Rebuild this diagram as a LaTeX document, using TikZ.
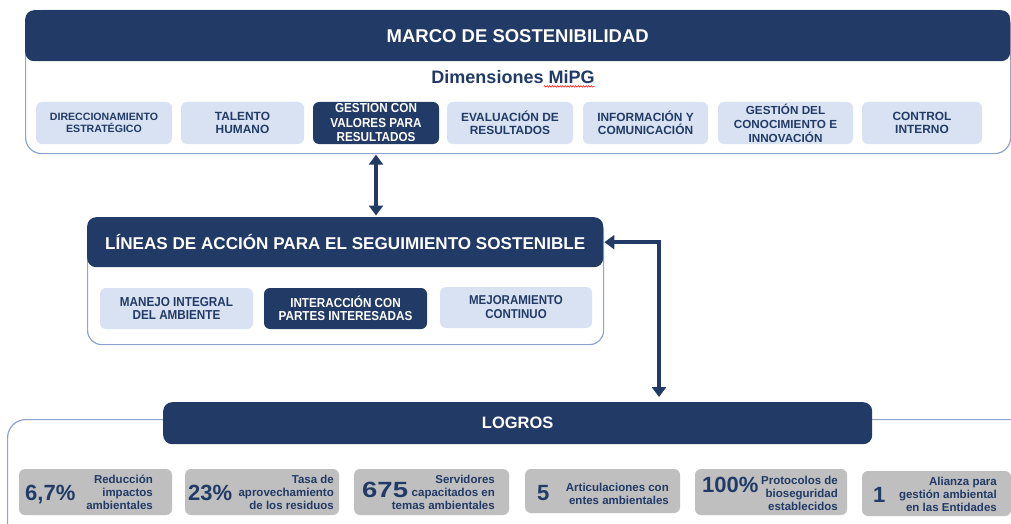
\documentclass[tikz,border=0pt]{standalone}
\usepackage{fontspec}
\usepackage{graphicx}
\setmainfont{Liberation Sans}
\usetikzlibrary{arrows.meta,decorations.pathmorphing}
\definecolor{navy}{HTML}{213A66}
\definecolor{lightblue}{HTML}{D9E2F2}
\definecolor{boxgray}{HTML}{BFBFBF}
\definecolor{frameline}{HTML}{8EA4CF}
\newcommand{\fs}[2]{\fontsize{#1}{#2}\selectfont}
\newcommand{\cnd}[1]{\scalebox{0.9}[1]{#1}}
\begin{document}
\begin{tikzpicture}[x=1pt,y=-1pt,
  frame/.style={draw=frameline, line width=1.2pt, fill=white, rounded corners=16pt, inner sep=0pt},
  hdr/.style={fill=navy, rounded corners=9pt, text=white, inner sep=0pt, font=\bfseries\fs{18.5}{20}},
  dimbox/.style={fill=lightblue, rounded corners=6pt, text=navy, align=center, inner sep=0pt, minimum height=42, font=\bfseries\fs{11.9}{13.5}},
  darkbox/.style={dimbox, fill=navy, text=white},
  midbox/.style={dimbox, minimum height=41, font=\bfseries\fs{13}{13}},
  achbox/.style={fill=boxgray, rounded corners=6pt, inner sep=0pt, minimum height=46},
  num/.style={anchor=base west, inner sep=0pt, text=navy, font=\bfseries\fs{22}{24}},
  desc/.style={anchor=east, inner sep=0pt, text=navy, align=right, font=\bfseries\fs{11.5}{13}},
  biarrow/.style={draw=navy, line width=3.5pt, {Triangle[width=14pt,length=10pt]}-{Triangle[width=14pt,length=10pt]}}
]
\useasboundingbox (0,0) rectangle (1011,524);
\clip (0,0) rectangle (1011,524);

% ---------- MARCO ----------
\node[frame, minimum width=985, minimum height=143, anchor=north west] (marco) at (25,10) {};
\node[hdr, minimum width=985, minimum height=51, anchor=north west] (marcohead) at (25,10) {MARCO DE SOSTENIBILIDAD};
\node[inner sep=0pt, text=navy, font=\bfseries\fs{18}{20}] (dim) at (513,77) {Dimensiones MiPG};
\draw[red, line width=0.5pt, decorate, decoration={snake, amplitude=0.8pt, segment length=2.6pt}]
  ([xshift=-51pt,yshift=-3pt]dim.base east) -- ([yshift=-3pt]dim.base east);

\node[dimbox, minimum width=136, font=\bfseries\fs{10.6}{12}] (d1) at (104,123) {DIRECCIONAMIENTO\\ESTRATÉGICO};
\node[dimbox, minimum width=123] (d2) at (242.5,123) {TALENTO\\HUMANO};
\node[darkbox, minimum width=126, font=\bfseries\fs{13}{14.5}] (d3) at (376,123) {\cnd{GESTION CON}\\\cnd{VALORES PARA}\\\cnd{RESULTADOS}};
\node[dimbox, minimum width=126] (d4) at (510,123) {EVALUACIÓN DE\\RESULTADOS};
\node[dimbox, minimum width=125] (d5) at (645.5,123) {INFORMACIÓN Y\\COMUNICACIÓN};
\node[dimbox, minimum width=135, font=\bfseries\fs{11.7}{14}] (d6) at (785.5,123) {GESTIÓN DEL\\CONOCIMIENTO E\\INNOVACIÓN};
\node[dimbox, minimum width=120] (d7) at (922,123) {CONTROL\\INTERNO};

% ---------- LINEAS ----------
\node[frame, rounded corners=14pt, minimum width=516, minimum height=127, anchor=north west] (linframe) at (87,217) {};
\node[hdr, minimum width=516, minimum height=50, anchor=north west, font=\bfseries\fs{17.1}{20}] (linhead) at (87,217) {LÍNEAS DE ACCIÓN PARA EL SEGUIMIENTO SOSTENIBLE};
\node[midbox, minimum width=153] (m1) at (176.5,308.5) {\cnd{MANEJO INTEGRAL}\\\cnd{DEL AMBIENTE}};
\node[midbox, fill=navy, text=white, minimum width=163] (m2) at (345.5,308.5) {\cnd{INTERACCIÓN CON}\\\cnd{PARTES INTERESADAS}};
\node[midbox, minimum width=152, font=\bfseries\fs{12.8}{14}] (m3) at (516,307.5) {\cnd{MEJORAMIENTO}\\\cnd{CONTINUO}};

% ---------- LOGROS ----------
\node[frame, rounded corners=18pt, minimum width=1100, minimum height=200, anchor=north west] (logframe) at (7,419) {};
\node[hdr, minimum width=709, minimum height=42, anchor=north west, font=\bfseries\fs{16.5}{20}] (loghead) at (163,402) {LOGROS};

\node[achbox, minimum width=153] (a1) at (95.5,492) {};
\node[achbox, minimum width=154] (a2) at (262,492) {};
\node[achbox, minimum width=155] (a3) at (431.5,492) {};
\node[achbox, minimum width=155, minimum height=44] (a4) at (602.5,491) {};
\node[achbox, minimum width=152] (a5) at (771,492) {};
\node[achbox, minimum width=149, minimum height=45] (a6) at (936.5,493.5) {};

\node[num] (n1) at (25,500) {6,7\%};
\node[num] (n2) at (188,500) {23\%};
\node[num] (n3) at (362,497) {\scalebox{1.25}[1]{675}};
\node[num] (n4) at (537,500) {5};
\node[num] (n5) at (702,492) {100\%};
\node[num] (n6) at (873,502) {1};

\node[desc] (t1) at (153,492) {Reducción\\impactos\\ambientales};
\node[desc] (t2) at (334,492.5) {Tasa de\\aprovechamiento\\de los residuos};
\node[desc] (t3) at (495,492) {Servidores\\capacitados en\\temas ambientales};
\node[desc] (t4) at (669,494) {Articulaciones con\\entes ambientales};
\node[desc] (t5) at (838,493.5) {Protocolos de\\bioseguridad\\establecidos};
\node[desc] (t6) at (997,494) {Alianza para\\gestión ambiental\\en las Entidades};

% ---------- connectors ----------
\draw[biarrow, shorten <=0.5pt, shorten >=1.5pt] (marco.south -| d3.center) -- (linframe.north -| d3.center);
\coordinate (bend) at (659,242);
\draw[biarrow, shorten <=5pt, shorten >=1pt] (loghead.north -| bend) |- (linhead.east);
\end{tikzpicture}
\end{document}
